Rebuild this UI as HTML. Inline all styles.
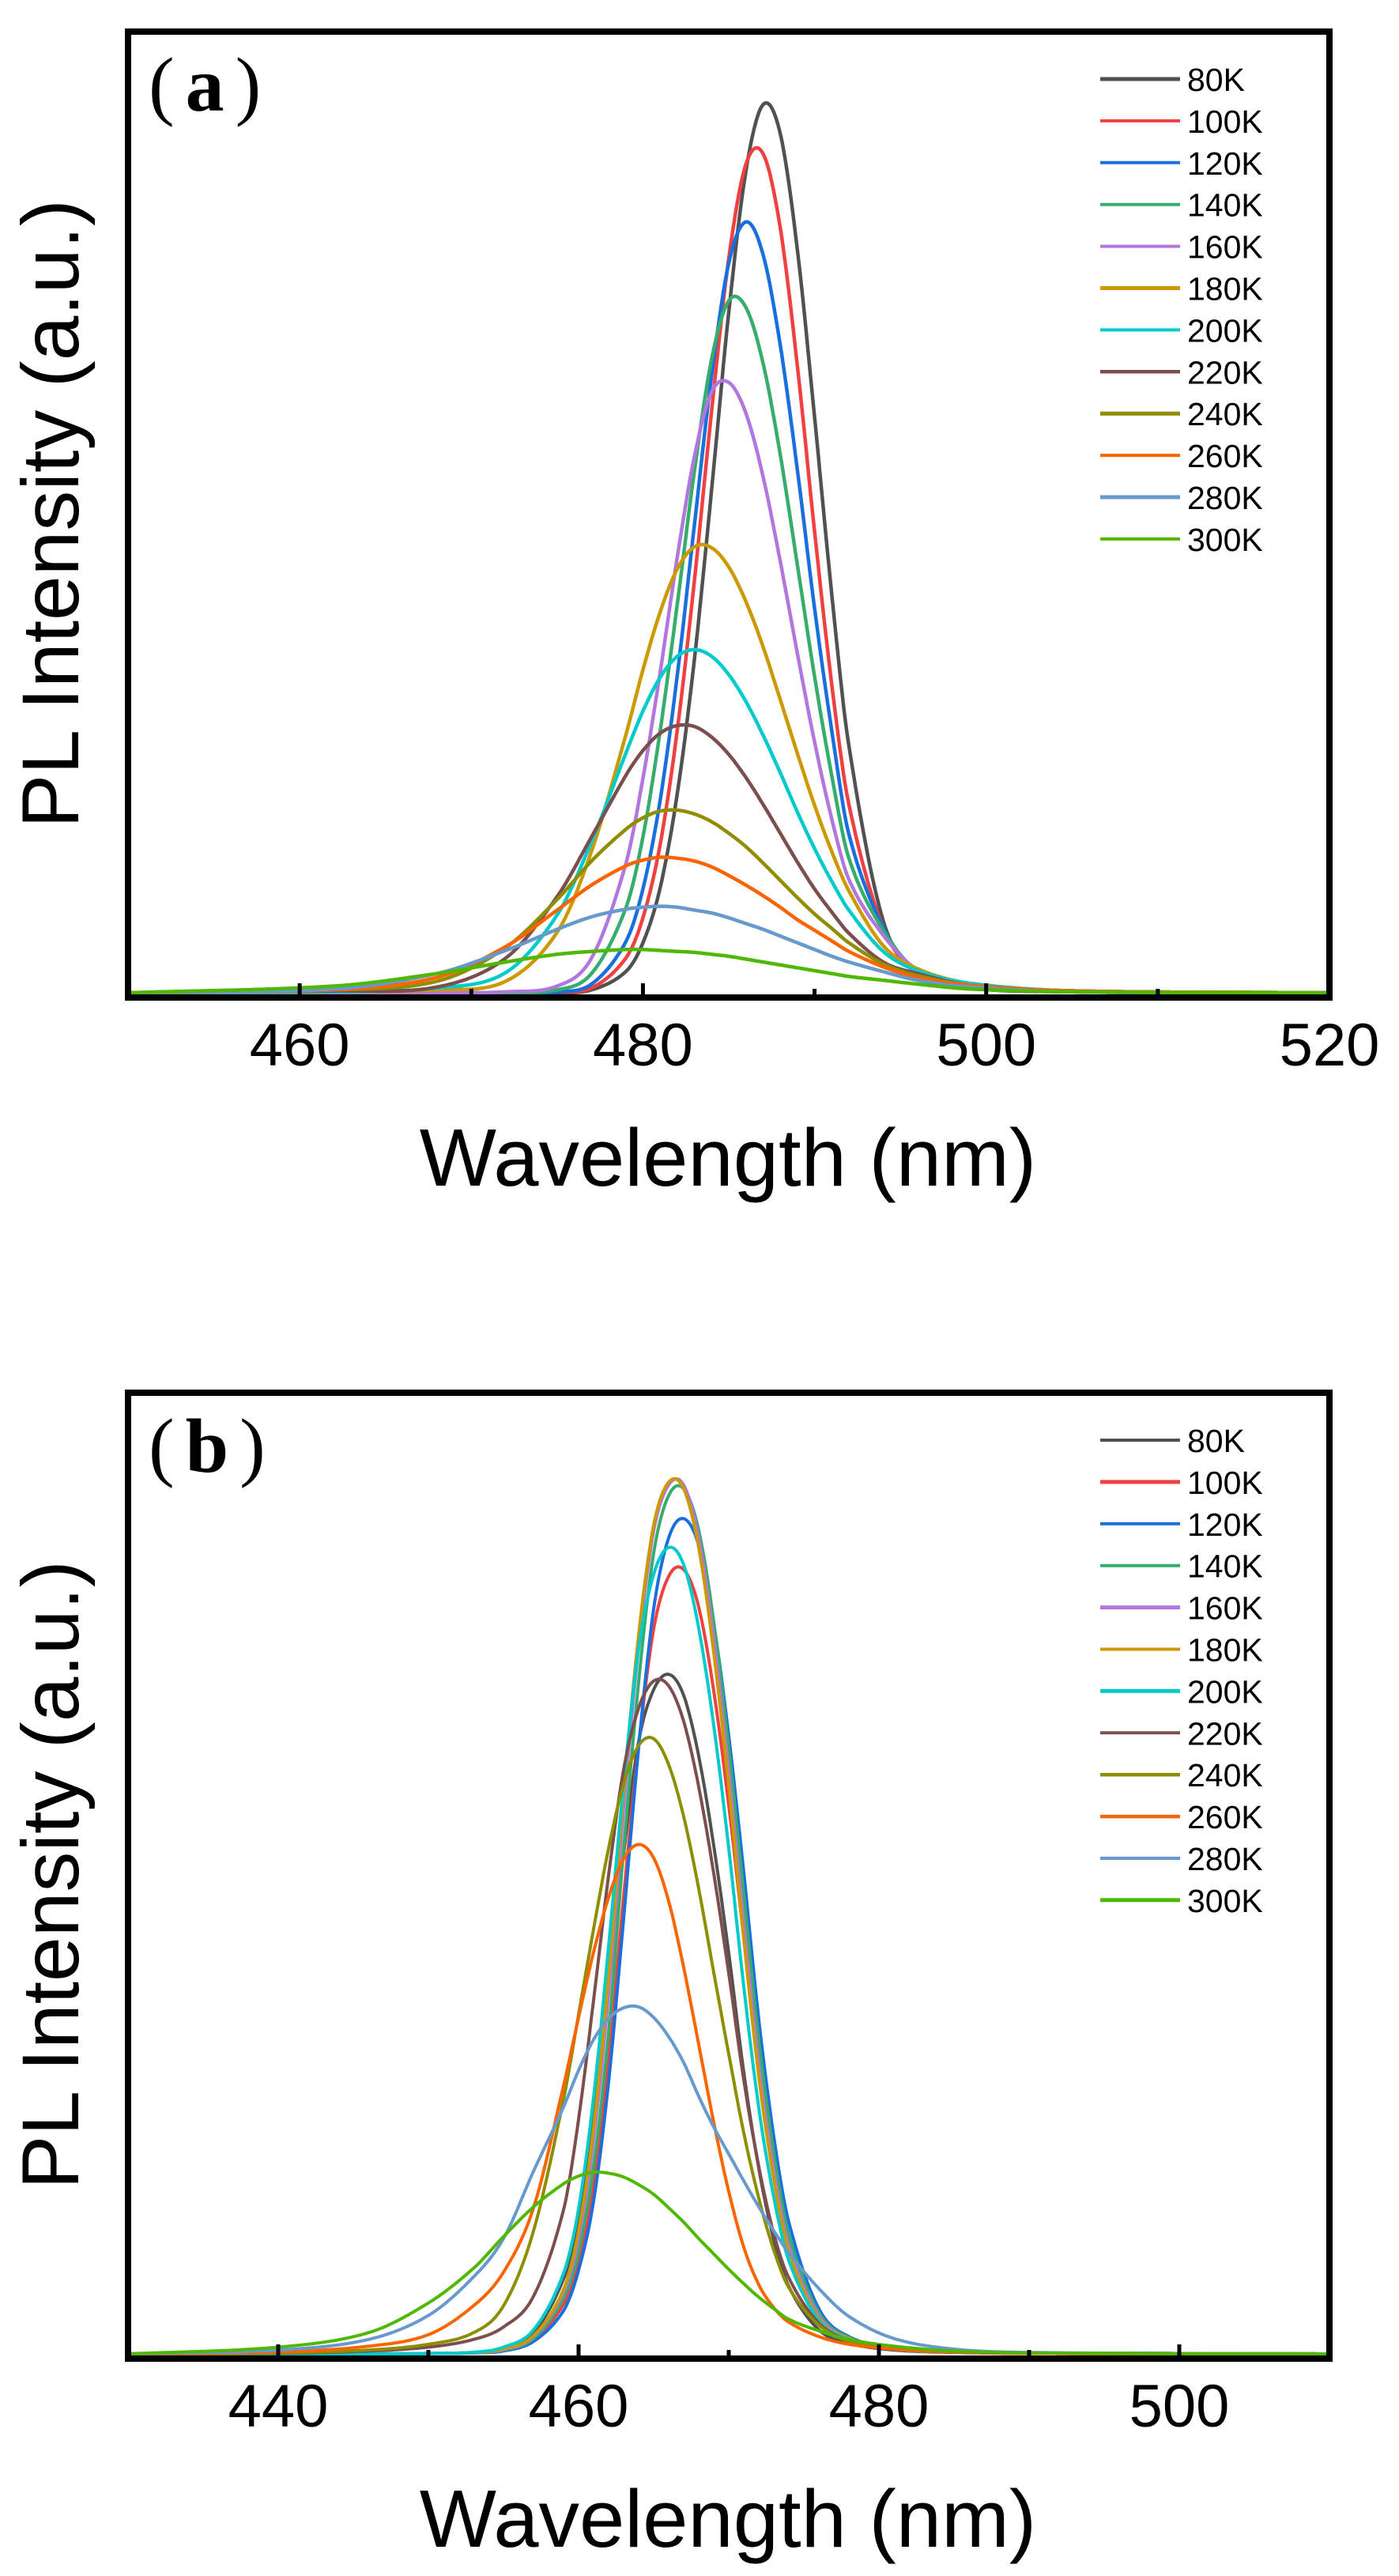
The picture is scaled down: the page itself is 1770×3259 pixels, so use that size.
<!DOCTYPE html>
<html>
<head>
<meta charset="utf-8">
<style>
html,body{margin:0;padding:0;background:#fff;}
svg{display:block;}
text{font-family:"Liberation Sans",sans-serif;fill:#000;}
</style>
</head>
<body>
<svg id="fig" width="1770" height="3259" viewBox="0 0 1770 3259" xmlns="http://www.w3.org/2000/svg">
  <rect x="0" y="0" width="1770" height="3259" fill="#fff"/>
  <g id="panelA"></g>
  <g id="panelB"></g>
</svg>
<script>
// ---------- shared ----------
const seriesLabels = ["80K","100K","120K","140K","160K","180K","200K","220K","240K","260K","280K","300K"];
const seriesColors = ["#515151","#F14040","#1A6FDF","#37AD6B","#B177DE","#CC9900","#00CBCC","#7D4E4E","#8E8E00","#FB6501","#6699CC","#4FB802"];

// ---------- panel (a) data ----------
const wavelengthsA = [450,462,468,472,475,477,479,480,481,482,483,484,485,486,487,488,489,490,491,492,494,496,499,505,520];
const a80K  = [0,0,0,0,0,0.3,2.2,5.2,10.9,20.7,34.7,52.3,70.8,85.5,92.4,89.4,77.3,59.9,41.5,25.7,7.5,2.0,0.5,0.1,0];
const a100K = [0,0,0,0,0.1,0.5,3.6,7.8,15.4,27.3,42.9,60.5,76.4,86.2,87.3,79.6,65.2,48.0,32.1,19.6,6.8,2.0,0.6,0.1,0];
const a120K = [0,0,0,0,0.1,0.9,5.3,10.8,20.0,33.0,48.7,64.2,75.9,80.2,76.8,67.4,54.4,40.0,27.3,16.5,6.8,2.2,0.7,0.1,0];
const a140K = [0,0,0,0,0.3,2.0,8.8,16.2,27.2,40.4,54.3,65.9,72.0,71.3,65.5,56.0,44.5,32.9,22.6,14.0,6.5,2.3,0.8,0.2,0];
const a160K = [0,0,0,0.1,0.7,3.6,13.4,22.3,33.3,45.3,55.8,62.5,63.5,60.3,53.7,44.9,35.3,26.1,18.1,11.8,6.0,2.4,0.9,0.2,0];
const a180K = [0,0.1,0.3,1.2,6.3,14.7,26.8,33.6,39.6,44.1,46.4,46.3,44.3,40.7,36.0,30.5,24.9,19.5,14.7,10.6,4.9,2.5,1.0,0.2,0];
const a200K = [0,0.1,0.5,2.1,8.1,15.7,24.9,29.3,32.8,35.0,35.7,35.0,33.1,30.3,26.8,22.9,18.8,15.0,11.6,8.6,4.3,2.3,1.0,0.2,0];
const a220K = [0,0.2,0.6,3.6,10.0,16.2,22.6,25.2,27.0,27.8,27.7,26.6,24.8,22.4,19.6,16.6,13.6,10.8,8.4,6.2,3.2,2.0,0.8,0.2,0];
const a240K = [0,0.3,1.2,4.7,9.7,13.7,17.0,18.2,18.9,19.0,18.6,17.8,16.6,15.2,13.5,11.7,9.9,8.2,6.7,5.2,3.0,1.8,0.8,0.2,0];
const a260K = [0,0.3,1.6,4.8,8.6,11.2,13.2,13.8,14.1,14.0,13.7,13.1,12.2,11.2,10.1,8.9,7.6,6.5,5.4,4.3,2.7,1.6,0.8,0.2,0];
const a280K = [0,0.4,2.0,4.4,6.6,7.9,8.7,8.9,9.0,8.9,8.6,8.3,7.8,7.2,6.6,5.9,5.2,4.5,3.8,3.2,2.2,1.3,0.6,0.1,0];
const a300K = [0,0.7,2.0,3.2,4.0,4.3,4.5,4.5,4.4,4.3,4.2,4.0,3.8,3.5,3.2,2.9,2.6,2.3,2.0,1.7,1.3,0.9,0.4,0.1,0];
const xTicksA = [460,480,500,520];
const xMinorA = [450,470,490,510];

// ---------- panel (b) data ----------
const wavelengthsB = [430,440,446,450,453,455,457,459,460,461,462,463,464,465,466,467,468,469,470,471,472,473,474,476,478,481,485,490,510];
const b80K  = [0,0,0,0.04,0.15,0.6,2.2,7.8,13.9,24.1,38.2,52.1,63.7,69.1,70.7,68.5,62.2,52.9,41.7,29.3,19.3,11.9,7.0,2.5,1.1,0.4,0.15,0.05,0];
const b100K = [0,0,0,0.04,0.11,0.36,1.5,5.2,9.6,17.7,30.3,47.6,63.3,75.4,80.9,81.6,77.7,69.0,57.1,43.3,29.5,18.9,11.2,3.9,1.6,0.5,0.2,0.1,0];
const b120K = [0,0,0,0.03,0.1,0.3,1.3,4.5,8.7,15.9,28.3,45.3,63.1,77.5,84.9,86.9,84.1,76.0,64.3,50.1,34.8,22.6,13.7,4.7,1.8,0.6,0.2,0.1,0];
const b140K = [0,0,0,0.04,0.12,0.4,1.6,5.8,10.6,19.5,33.5,52.5,69.9,83.3,89.3,90.0,85.7,76.2,63.0,47.8,32.6,20.9,12.4,4.3,1.7,0.5,0.2,0.1,0];
const b160K = [0,0,0,0.05,0.14,0.45,1.8,6.4,11.9,22.2,37.4,56.6,73.6,85.6,90.4,90.4,84.9,74.5,60.6,44.9,30.2,19.2,11.3,4.0,1.6,0.5,0.2,0.1,0];
const b180K = [0,0,0,0.05,0.15,0.5,1.9,6.7,12.8,23.5,39.2,58.4,74.8,86.2,90.7,90.0,83.9,73.0,59.1,43.2,28.9,18.2,10.7,3.7,1.6,0.5,0.2,0.1,0];
const b200K = [0,0,0,0.05,0.17,0.7,2.5,8.4,15.1,26.7,42.4,59.3,73.4,81.1,83.9,82.1,75.5,65.4,52.6,38.2,25.6,16.3,9.7,3.5,1.5,0.5,0.2,0.1,0];
const b220K = [0,0.05,0.3,0.7,1.5,2.8,6.0,15.0,24.4,36.8,49.8,60.8,67.2,70.0,69.5,65.8,59.0,50.0,39.6,28.5,19.5,12.5,7.9,3.2,1.4,0.5,0.2,0.05,0];
const b240K = [0,0.1,0.4,1.0,2.2,5.0,12.8,26.5,35.3,44.2,52.6,59.3,63.3,64.0,61.3,55.9,48.4,39.7,31.2,23.0,16.2,10.8,6.9,3.0,1.3,0.5,0.2,0.05,0];
const b260K = [0,0.2,0.8,2.0,5.0,8.5,15.2,27.9,35.0,41.8,47.5,51.5,53.0,51.6,47.1,40.2,32.2,24.1,16.9,11.1,7.2,4.8,3.3,1.8,1.0,0.5,0.2,0.05,0];
const b280K = [0,0.4,1.5,4.0,8.0,12.0,19.0,25.7,29.5,32.7,34.9,36.0,36.1,35.0,33.0,30.3,26.8,23.6,20.8,18.0,15.3,12.8,10.5,6.8,3.9,1.6,0.5,0.15,0];
const b300K = [0,0.7,2.2,5.3,8.9,12.2,15.3,17.7,18.5,18.9,18.8,18.4,17.6,16.6,15.2,13.7,12.0,10.4,8.8,7.3,5.9,4.7,3.6,2.4,1.5,0.8,0.3,0.1,0];
const xTicksB = [440,460,480,500];
const xMinorB = [450,470,490];

const NS = "http://www.w3.org/2000/svg";
function mk(tag, attrs, parent){
  const e = document.createElementNS(NS, tag);
  for (const k in attrs) e.setAttribute(k, attrs[k]);
  parent.appendChild(e);
  return e;
}

function spline(xs, ys){
  const n = xs.length, m = new Array(n);
  m[0] = (ys[1]-ys[0])/(xs[1]-xs[0]);
  m[n-1] = (ys[n-1]-ys[n-2])/(xs[n-1]-xs[n-2]);
  for (let i=1;i<n-1;i++) m[i] = (ys[i+1]-ys[i-1])/(xs[i+1]-xs[i-1]);
  return function(x){
    let i=0; while(i<n-2 && x>xs[i+1]) i++;
    const h=xs[i+1]-xs[i], t=(x-xs[i])/h, t2=t*t, t3=t2*t;
    return (2*t3-3*t2+1)*ys[i]+(t3-2*t2+t)*h*m[i]+(-2*t3+3*t2)*ys[i+1]+(t3-t2)*h*m[i+1];
  };
}

function drawPanel(g, cfg){
  const L=162, R=1682, T=cfg.top, B=cfg.top+1222;
  const y0 = cfg.top + 1216;
  const xScale = v => L + (v-cfg.xmin)*(R-L)/(cfg.xmax-cfg.xmin);
  const yScale = u => y0 - u*12.16;

  const cg = mk("g", {}, g);
  
  
  cfg.series.forEach((vals, si) => {
    const f = spline(cfg.wl, vals);
    let dstr = "";
    const steps = 900;
    for (let k=0;k<=steps;k++){
      const w = cfg.xmin + (cfg.xmax-cfg.xmin)*k/steps;
      const v = Math.max(0, f(w));
      dstr += (k? "L":"M") + xScale(w).toFixed(1) + "," + yScale(v).toFixed(1);
    }
    const p = mk("path", {d:dstr, fill:"none", stroke:seriesColors[si], "stroke-width":cfg.lw, "stroke-linejoin":"round"}, cg);
    
    
  });

  const fr = mk("rect", {x:L, y:T, width:R-L, height:B-T, fill:"none", stroke:"#000", "stroke-width":8}, g);
  
  

  cfg.ticks.forEach(t => {
    const x = xScale(t);
    const tk = mk("line", {x1:x, x2:x, y1:B-4, y2:B-18, stroke:"#000", "stroke-width":5}, g);
    
    
    const lb = mk("text", {x:x, y:B+86, "font-size":76, "text-anchor":"middle"}, g);
    lb.textContent = t;
    
    
  });
  cfg.minor.forEach(t => {
    const x = xScale(t);
    const tk = mk("line", {x1:x, x2:x, y1:B-4, y2:B-11, stroke:"#000", "stroke-width":5}, g);
    
    
  });

  const xt = mk("text", {x:921, y:cfg.top+1460, "font-size":103, "text-anchor":"middle"}, g);
  xt.textContent = "Wavelength (nm)";
  
  
  const yt = mk("text", {x:0, y:0, "font-size":102, "text-anchor":"middle", transform:"translate(99," + (cfg.top+610) + ") rotate(-90)"}, g);
  yt.textContent = "PL Intensity (a.u.)";
  
  

  const pl = mk("text", {x:188, y:cfg.top+100, "font-size":98, style:"font-family:'Liberation Serif',serif;letter-spacing:10px"}, g);
  
  
  const t1 = mk("tspan", {}, pl); t1.textContent = "(";
  const t2 = mk("tspan", {"font-weight":"bold", dx:4}, pl); t2.textContent = cfg.label;
  const t3 = mk("tspan", {dx:4}, pl); t3.textContent = ")";

  const lg = mk("g", {}, g);
  
  
  seriesLabels.forEach((lab, i) => {
    const yy = cfg.legendTop + i*52.9;
    const ent = mk("g", {}, lg);
    
    
    mk("line", {x1:1392, x2:1493, y1:yy, y2:yy, stroke:seriesColors[i], "stroke-width":cfg.legendW[i]}, ent);
    const tx = mk("text", {x:1502, y:yy+15, "font-size":41}, ent);
    tx.textContent = lab;
  });
}

drawPanel(document.getElementById("panelA"), {
  top:40, xmin:450, xmax:520, wl:wavelengthsA,
  series:[a80K,a100K,a120K,a140K,a160K,a180K,a200K,a220K,a240K,a260K,a280K,a300K],
  ticks:xTicksA, minor:xMinorA, label:"a", legendTop:100, lw:4.5,
  legendW:[5,4,4,4,4,5,4,4.5,5,4,5,4]
});
drawPanel(document.getElementById("panelB"), {
  top:1762, xmin:430, xmax:510, wl:wavelengthsB,
  series:[b80K,b100K,b120K,b140K,b160K,b180K,b200K,b220K,b240K,b260K,b280K,b300K],
  ticks:xTicksB, minor:xMinorB, label:"b", legendTop:1822, lw:4,
  legendW:[4,5,4,4,5,4,5,4,4.5,4.5,4,5]
});
</script>
</body>
</html>
